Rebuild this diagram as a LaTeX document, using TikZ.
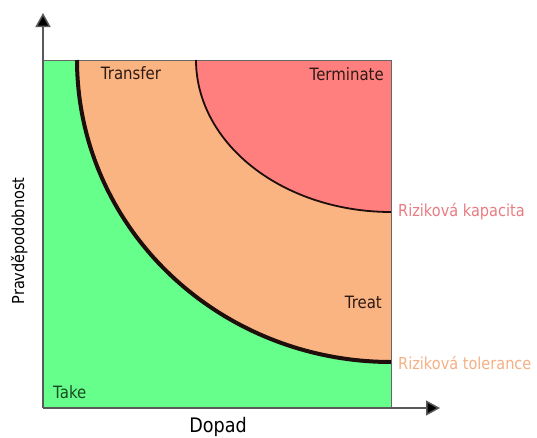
\documentclass[tikz,border=0pt]{standalone}
\usepackage{fontspec}
\setmainfont{DejaVu Sans}[FakeStretch=0.88]
\usetikzlibrary{arrows.meta}
\definecolor{takegreen}{HTML}{66FF8C}
\definecolor{treatorange}{HTML}{FAB482}
\definecolor{termred}{HTML}{FF7F7F}
\definecolor{capcol}{HTML}{E87C82}
\definecolor{tolcol}{HTML}{F4B083}
\definecolor{zonetext}{HTML}{2E1A14}
\definecolor{taketext}{HTML}{1A4A22}
\definecolor{curvecol}{HTML}{1E0E0C}
\tikzset{
  zone/.style={font=\fontsize{17}{19}\selectfont, text=zonetext, inner sep=0pt},
  limit/.style={font=\fontsize{16.5}{18}\selectfont, inner sep=0pt},
  axis/.style={draw=black!65, line width=1.5pt, -{Triangle[width=15pt,length=14pt,fill=black]}},
}
\begin{document}
\begin{tikzpicture}[x=1pt, y=-1pt]
\useasboundingbox (0,0) rectangle (537,437);
% regions: take (whole square), treat/transfer band, terminate corner
\fill[takegreen] (43,60) rectangle (391,408);
\fill[treatorange] plot[domain=180:90, samples=80, variable=\t]
  ({391+314*cos(\t)}, {60+302*sin(\t)}) -- (391,60) -- cycle;
\fill[termred] plot[domain=180:90, samples=80, variable=\t]
  ({391+195*cos(\t)}, {60+152*sin(\t)}) -- (391,60) -- cycle;
% frame
\draw[black!60, line width=0.8pt] (43,60) -- (391,60) -- (391,408);
% limit curves
\draw[curvecol, line width=4pt] plot[domain=180:90, samples=80, variable=\t]
  ({391+314*cos(\t)}, {60+302*sin(\t)});
\draw[curvecol, line width=1.8pt] plot[domain=180:90, samples=80, variable=\t]
  ({391+195*cos(\t)}, {60+152*sin(\t)});
% axes
\coordinate (origin) at (43,408);
\coordinate (ytip) at (43,13);
\coordinate (xtip) at (440,408);
\draw[axis] (origin) -- (ytip);
\draw[axis] (origin) -- (xtip);
% zone labels
\node[zone, anchor=base] (transfer) at (131,79) {Transfer};
\node[zone, anchor=base east] (terminate) at (384,80) {Terminate};
\node[zone, anchor=base east] (treat) at (382,308) {Treat};
\node[zone, anchor=base west, text=taketext] (take) at (53,398) {Take};
% limit labels
\node[limit, anchor=base west, text=capcol] (capacity) at (398,216) {Riziková kapacita};
\node[limit, anchor=base west, text=tolcol] (tolerance) at (398,369) {Riziková tolerance};
% axis titles
\node[font=\fontsize{20}{22}\selectfont, anchor=base, inner sep=0pt] (impact) at (218,432) {Dopad};
\node[font=\fontsize{16.5}{18}\selectfont, anchor=base, rotate=90, inner sep=0pt] (prob) at (24,241) {Pravděpodobnost};
\end{tikzpicture}
\end{document}
